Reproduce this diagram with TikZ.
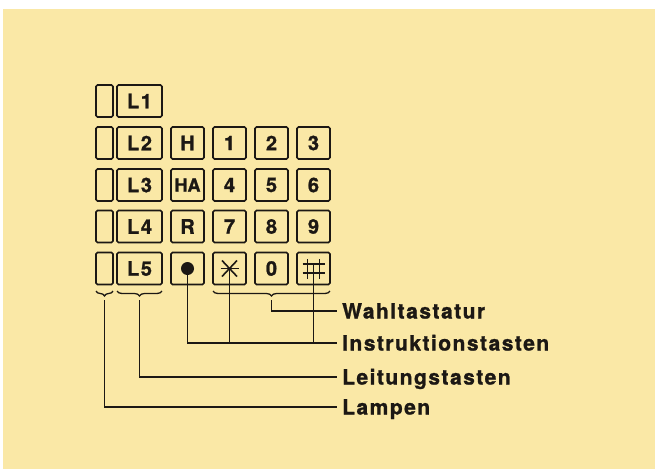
\documentclass[tikz,border=0pt]{standalone}
\usepackage{fontspec}
\setmainfont{TeX Gyre Heros}
\newfontfamily\lblfont[LetterSpace=7, BoldFeatures={FakeBold=1.2}]{TeX Gyre Heros}
\newfontfamily\keyfont[LetterSpace=8, BoldFeatures={FakeBold=1.2}]{TeX Gyre Heros}
\usetikzlibrary{decorations.pathreplacing}
\definecolor{paper}{RGB}{250,232,166}
\definecolor{ink}{RGB}{28,24,20}
\tikzset{
  key/.style={draw=ink, line width=1.6pt, rounded corners=1.5pt, minimum width=33pt, minimum height=32pt, inner sep=0pt, font=\keyfont\bfseries\fontsize{20}{20}\selectfont, text=ink},
  lamp/.style={key, minimum width=17pt},
  lkey/.style={key, minimum width=45pt},
  lbl/.style={anchor=west, inner xsep=5pt, inner ysep=0pt, text height=15pt, text depth=0pt, font=\lblfont\bfseries\fontsize{21}{21}\selectfont, text=ink},
  conn/.style={draw=ink, line width=1.5pt},
  brc/.style={draw=ink, line width=1.3pt, decorate, decoration={brace, mirror, amplitude=5pt}},
}
\begin{document}
\begin{tikzpicture}[x=1pt, y=-1pt]
\useasboundingbox (0,0) rectangle (655,469);
\fill[white] (0,0) rectangle (655,469);
\fill[paper] (3,9) rectangle (655,469);
% lamps
\foreach \r/\y in {1/101,2/143,3/185,4/226.5,5/268.5}{
  \node[lamp] (lamp\r) at (104.5,\y) {};
  \node[lkey] (L\r) at (139.5,\y) {L\r};
}
\node[key] (H) at (187.5,143) {H};
\node[key] (HA) at (187.5,185) {\fontsize{18}{18}\selectfont\addfontfeatures{LetterSpace=0}HA};
\node[key] (R) at (187.5,226.5) {R};
\node[key] (dot) at (187.5,268.5) {};
\node[key] (k1) at (229.5,143) {1};
\node[key] (k2) at (271.5,143) {2};
\node[key] (k3) at (313.5,143) {3};
\node[key] (k4) at (229.5,185) {4};
\node[key] (k5) at (271.5,185) {5};
\node[key] (k6) at (313.5,185) {6};
\node[key] (k7) at (229.5,226.5) {7};
\node[key] (k8) at (271.5,226.5) {8};
\node[key] (k9) at (313.5,226.5) {9};
\node[key] (star) at (229.5,268.5) {};
\node[key] (k0) at (271.5,268.5) {0};
\node[key] (hash) at (313.5,268.5) {};
% symbols
\fill[ink] (dot.center) circle (6.5pt);
\draw[ink, line width=1.6pt] ([xshift=-9pt]star.center) -- ([xshift=9pt]star.center);
\draw[ink, line width=1.6pt] ([shift={(-7.5pt,-8pt)}]star.center) -- ([shift={(7.5pt,8pt)}]star.center);
\draw[ink, line width=1.6pt] ([shift={(-7.5pt,8pt)}]star.center) -- ([shift={(7.5pt,-8pt)}]star.center);
\draw[ink, line width=1.6pt] ([shift={(-6pt,-10pt)}]hash.center) -- ([shift={(-6pt,10pt)}]hash.center);
\draw[ink, line width=1.6pt] ([shift={(6pt,-10pt)}]hash.center) -- ([shift={(6pt,10pt)}]hash.center);
\draw[ink, line width=1.6pt] ([shift={(-11pt,-4.5pt)}]hash.center) -- ([shift={(11pt,-4.5pt)}]hash.center);
\draw[ink, line width=1.6pt] ([shift={(-11pt,4.5pt)}]hash.center) -- ([shift={(11pt,4.5pt)}]hash.center);
\coordinate (hashfoot) at ([yshift=4.5pt]hash.center);
% braces
\draw[brc] (96,291) -- (113,291);
\draw[brc] (117,291) -- (162,291);
\draw[brc] (213,291) -- (330,291);
\coordinate (tipLamp) at (104.5,300);
\coordinate (tipL) at (139.5,300);
\coordinate (tipK) at (271.5,300);
% labels
\node[lbl] (wahl) at (337,311) {Wahltastatur};
\node[lbl] (instr) at (337,343) {Instruktionstasten};
\node[lbl] (leit) at (337,377) {Leitungstasten};
\node[lbl] (lamp) at (337,407) {Lampen};
% connectors
\draw[conn] (tipK) |- (wahl.west);
\draw[conn] (dot.center) |- (instr.west);
\draw[conn] (star.center) -- (star.center |- instr.west);
\draw[conn] (hashfoot) -- (hashfoot |- instr.west);
\draw[conn] (tipL) |- (leit.west);
\draw[conn] (tipLamp) |- (lamp.west);
\end{tikzpicture}
\end{document}
